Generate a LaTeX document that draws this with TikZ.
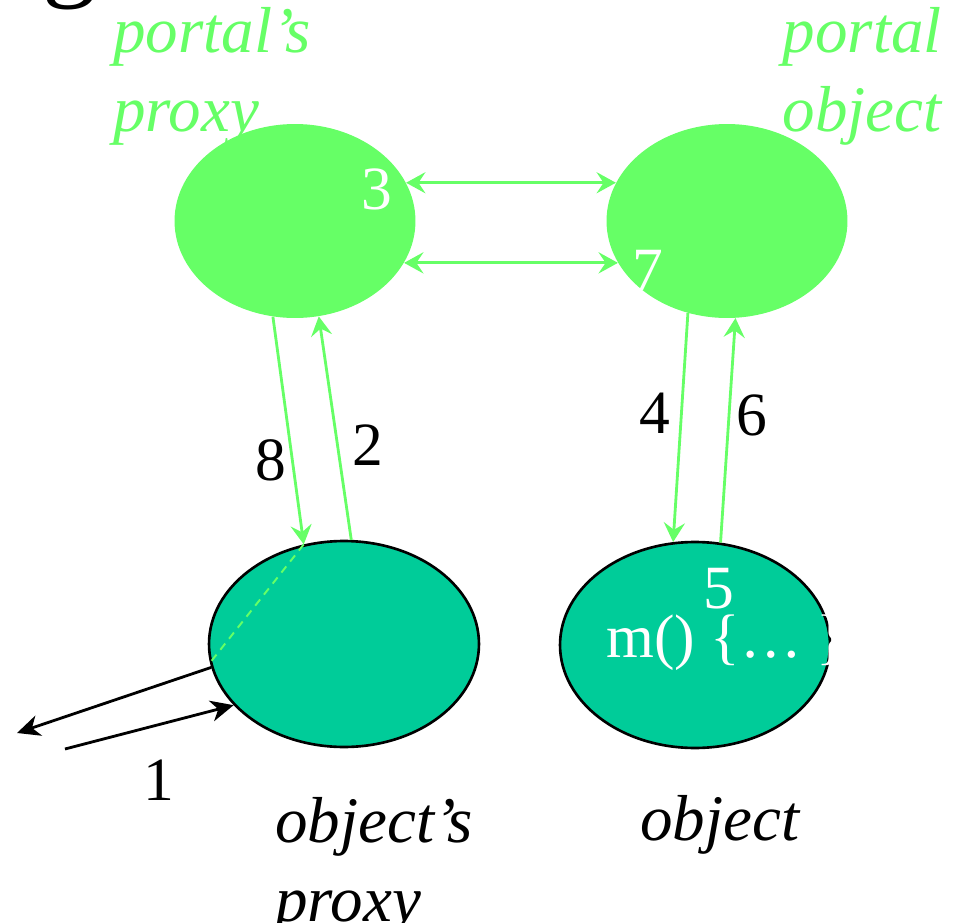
\documentclass[tikz,border=0pt]{standalone}
\usepackage{fontspec}
\setmainfont{Liberation Serif}
\usetikzlibrary{shapes.geometric,arrows.meta}
\definecolor{portalgreen}{HTML}{66FF66}
\definecolor{objgreen}{HTML}{00CC99}

\begin{document}
\begin{tikzpicture}[
    x=0.02cm, y=-0.02cm,
    portal/.style={ellipse, fill=portalgreen, inner sep=0pt, minimum width=4.82cm, minimum height=3.88cm},
    objnode/.style={ellipse, draw, line width=1.5pt, fill=objgreen, inner sep=0pt, minimum width=5.4cm, minimum height=4.12cm},
    flow/.style={-{Stealth[length=11pt,width=12pt,inset=4pt]}, portalgreen, line width=1.6pt},
    biflow/.style={{Stealth[length=11pt,width=12pt,inset=4pt]}-{Stealth[length=11pt,width=12pt,inset=4pt]}, portalgreen, line width=1.8pt},
    call/.style={-{Stealth[length=13pt,width=12pt,inset=4pt]}, line width=1.6pt},
    num/.style={font=\fontsize{35}{42}\selectfont, inner sep=0pt},
    lbl/.style={font=\fontsize{37}{45}\selectfont\itshape, inner sep=0pt}
]
\useasboundingbox (0,0) rectangle (965,923);

% cut-off title letter
\node[font=\fontsize{62}{70}\selectfont, anchor=base, inner sep=0pt] (title) at (70,-14) {g};

% ellipses
\node[portal] (pproxy) at (295,221) {};
\node[portal] (pobj) at (727,221) {};
\node[objnode] (oproxy) at (344,644) {};
\node[objnode] (obj) at (695,645) {};

% captions
\node[lbl, text=portalgreen, align=left, anchor=north west] (pproxylbl) at (113,7) {portal's\\proxy};
\node[lbl, text=portalgreen, align=right, anchor=north east] (pobjlbl) at (942,7) {portal\\object};
\node[lbl, align=left, anchor=north west] (oproxylbl) at (275,797) {object's\\proxy};
\node[lbl, anchor=base west] (objlbl) at (640,840) {object};

% portal to portal
\draw[biflow] (pproxy.19) -- (pobj.161);
\draw[biflow] (pproxy.-21) -- (pobj.201);

% proxies
\draw[flow] (pproxy.-103) -- (oproxy.112);
\draw[flow] (oproxy.86) -- (pproxy.-76);
\draw[portalgreen, line width=1.1pt, dash pattern=on 4.5pt off 3.5pt] (oproxy.112) -- (oproxy.188);

% object side
\draw[flow] (pobj.-113) -- (obj.102);
\draw[flow] (obj.76) -- (pobj.-85);

% caller
\coordinate (callout) at (17,733);
\coordinate (callin) at (65,749);
\draw[call] (oproxy.190) -- (callout);
\draw[call] (callin) -- (oproxy.209);

% step numbers
\node[num] (n1) at (159,780) {1};
\node[num] (n2) at (368,445) {2};
\node[num, text=white] (n3) at (377,189) {3};
\node[num] (n4) at (655,413) {4};
\node[num, text=white] (n5) at (719,589) {5};
\node[num] (n6) at (752,415) {6};
\node[num, text=white] (n7) at (648,270) {7};
\node[num] (n8) at (271,460) {8};
\node[num, text=white, anchor=base west] (body) at (606,657) {m() \{… \}};

\end{tikzpicture}
\end{document}
